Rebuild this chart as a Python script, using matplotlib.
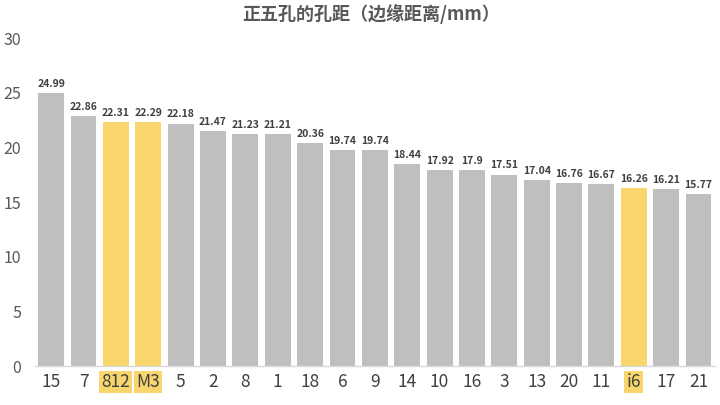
import matplotlib.pyplot as plt

plt.rcParams['font.family'] = ['Noto Sans CJK SC', 'DejaVu Sans']

labels = ["15", "7", "812", "M3", "5", "2", "8", "1", "18", "6", "9",
          "14", "10", "16", "3", "13", "20", "11", "i6", "17", "21"]
values = [24.99, 22.86, 22.31, 22.29, 22.18, 21.47, 21.23, 21.21, 20.36, 19.74, 19.74,
          18.44, 17.92, 17.9, 17.51, 17.04, 16.76, 16.67, 16.26, 16.21, 15.77]
highlight = ["812", "M3", "i6"]

gray = "#BFBFBF"
yellow = "#F8D66D"
txt = "#404040"

fig = plt.figure(figsize=(7.2, 4.05), dpi=100)
ax = fig.add_axes([0.0486, 0.096, 0.944, 0.81])

colors = [yellow if l in highlight else gray for l in labels]
x = range(len(labels))
ax.bar(x, values, width=0.8, color=colors)

for i, v in enumerate(values):
    ax.annotate(f"{v:g}", (i, v), xytext=(0, 3), textcoords="offset points",
                ha="center", va="bottom", fontsize=7.5, fontweight="bold", color=txt)

ax.set_xlim(-0.5, len(labels) - 0.5)
ax.set_ylim(0, 30)
ax.set_yticks(range(0, 31, 5))
ax.set_xticks(list(x))
ax.set_xticklabels(labels, fontsize=12.5, color=txt, fontweight="medium")
for t in ax.get_xticklabels():
    if t.get_text() in highlight:
        t.set_bbox(dict(facecolor=yellow, edgecolor="none", pad=1.5))
ax.tick_params(axis="y", labelsize=11.5, colors="#595959", length=0, pad=10)
ax.tick_params(axis="x", length=0, pad=5)

for s in ["top", "right", "left"]:
    ax.spines[s].set_visible(False)
ax.spines["bottom"].set_color("#D9D9D9")
ax.spines["bottom"].set_linewidth(1)

fig.suptitle("正五孔的孔距（边缘距离/mm）", x=0.515, y=0.99, fontsize=13,
             fontweight="bold", color="#595959")

fig.savefig("out.png", dpi=100)
